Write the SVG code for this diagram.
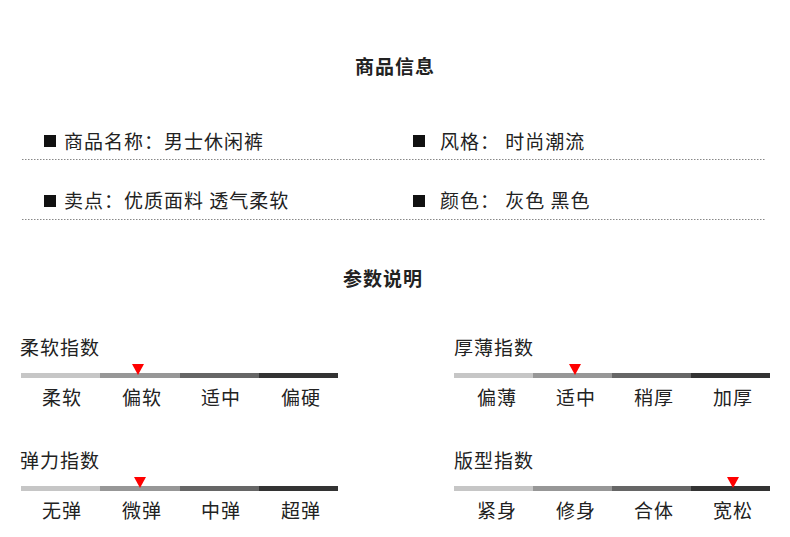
<svg xmlns="http://www.w3.org/2000/svg" width="790" height="537" viewBox="0 0 790 537">
<style>
text{font-family:"Noto Sans CJK SC","Noto Sans",sans-serif;fill:#222;font-size:19px;letter-spacing:1px}
.h{font-weight:bold;text-anchor:middle}
.l{text-anchor:middle}
.dot{stroke:#888;stroke-width:1;stroke-dasharray:1.5 1.5}
.s1{fill:#c6c6c6}.s2{fill:#979797}.s3{fill:#666}.s4{fill:#333}
.m{fill:#f00}
</style>
<rect width="790" height="537" fill="#fff"/>
<text class="h" x="395" y="74">商品信息</text>
<g id="info">
<rect x="44" y="135" width="12" height="12" fill="#111"/>
<text x="64" y="149">商品名称：男士休闲裤</text>
<rect x="413" y="135" width="12" height="12" fill="#111"/>
<text x="440" y="149">风格： 时尚潮流</text>
<line class="dot" x1="22" y1="159.5" x2="766" y2="159.5"/>
<rect x="44" y="195" width="12" height="12" fill="#111"/>
<text x="64" y="208">卖点：优质面料 透气柔软</text>
<rect x="413" y="195" width="12" height="12" fill="#111"/>
<text x="440" y="208">颜色： 灰色 黑色</text>
<line class="dot" x1="22" y1="219.5" x2="766" y2="219.5"/>
</g>
<text class="h" x="383" y="286">参数说明</text>
<g id="soft">
<text x="20" y="355">柔软指数</text>
<rect class="s1" x="21" y="373" width="79" height="5"/><rect class="s2" x="100" y="373" width="80" height="5"/><rect class="s3" x="180" y="373" width="79" height="5"/><rect class="s4" x="259" y="373" width="79" height="5"/>
<polygon class="m" points="132,364 144,364 138,375"/>
<text class="l" x="62" y="405">柔软</text><text class="l" x="142" y="405">偏软</text><text class="l" x="221" y="405">适中</text><text class="l" x="301" y="405">偏硬</text>
</g>
<g id="thick">
<text x="454" y="355">厚薄指数</text>
<rect class="s1" x="454" y="373" width="79" height="5"/><rect class="s2" x="533" y="373" width="79" height="5"/><rect class="s3" x="612" y="373" width="79" height="5"/><rect class="s4" x="691" y="373" width="79" height="5"/>
<polygon class="m" points="569,364 581,364 575,375"/>
<text class="l" x="497" y="405">偏薄</text><text class="l" x="576" y="405">适中</text><text class="l" x="654" y="405">稍厚</text><text class="l" x="733" y="405">加厚</text>
</g>
<g id="elastic">
<text x="20" y="468">弹力指数</text>
<rect class="s1" x="21" y="486" width="79" height="5"/><rect class="s2" x="100" y="486" width="80" height="5"/><rect class="s3" x="180" y="486" width="79" height="5"/><rect class="s4" x="259" y="486" width="79" height="5"/>
<polygon class="m" points="134,477 146,477 140,488"/>
<text class="l" x="62" y="518">无弹</text><text class="l" x="142" y="518">微弹</text><text class="l" x="221" y="518">中弹</text><text class="l" x="301" y="518">超弹</text>
</g>
<g id="fit">
<text x="454" y="468">版型指数</text>
<rect class="s1" x="454" y="486" width="79" height="5"/><rect class="s2" x="533" y="486" width="79" height="5"/><rect class="s3" x="612" y="486" width="79" height="5"/><rect class="s4" x="691" y="486" width="79" height="5"/>
<polygon class="m" points="727,477 739,477 733,488"/>
<text class="l" x="497" y="518">紧身</text><text class="l" x="576" y="518">修身</text><text class="l" x="654" y="518">合体</text><text class="l" x="733" y="518">宽松</text>
</g>
<g id="connectors"/>
</svg>
